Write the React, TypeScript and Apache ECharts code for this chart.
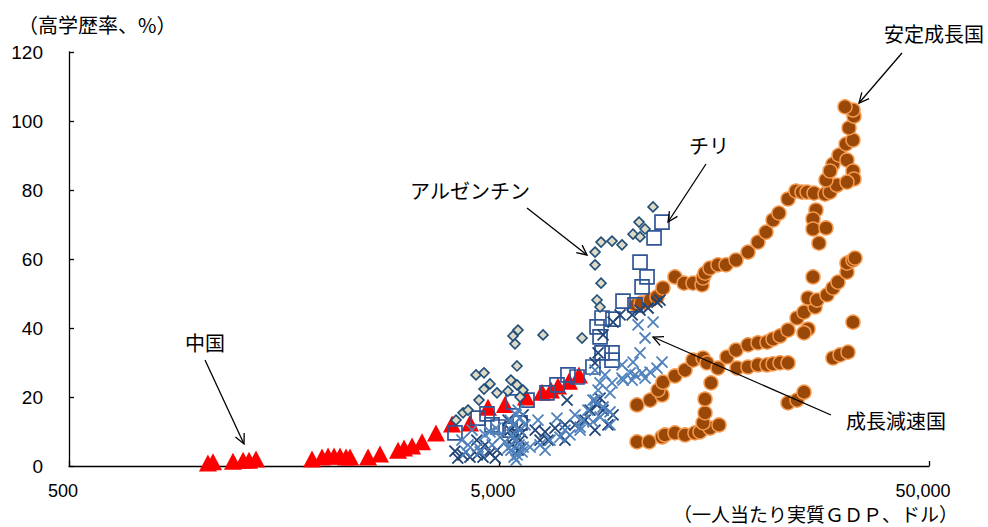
import { useEffect, useRef } from "react";
import * as echarts from "echarts";

// ---------- data: [real GDP per capita (USD), tertiary education rate (%)] ----------
const GDP_BASE = 500;
const xTickValues = [500, 5000, 50000];
const yTicks = [0, 20, 40, 60, 80, 100, 120];

const china: [number, number][] = [
  [1052, 0.9], [1081, 1.2], [1203, 1.4], [1270, 1.7], [1311, 1.7], [1361, 2.0],
  [1837, 2.0], [1938, 2.6], [2002, 2.9], [2067, 2.9], [2134, 2.9], [2204, 2.6],
  [2252, 2.6], [2480, 2.6], [2644, 3.5], [2912, 4.6], [3007, 5.2], [3139, 5.8],
  [3311, 7.0], [3568, 9.6], [3888, 12.2], [4281, 12.5], [4714, 17.0], [5162, 17.8],
  [5778, 20.0], [6295, 21.4], [6604, 22.0], [6858, 23.2], [7273, 24.6], [7673, 26.4],
];

const argentina: [number, number][] = [
  [3972, 13.3], [4124, 15.4], [4236, 16.2], [4492, 19.1], [4614, 22.3], [4765, 23.8],
  [4946, 21.2], [4421, 26.4], [4614, 27.0], [5245, 21.7], [5329, 24.9], [5506, 23.5],
  [5684, 22.0], [5597, 20.0], [5506, 29.0], [5447, 35.4], [5388, 37.7], [5535, 39.4],
  [6330, 38.0], [7800, 37.1], [8452, 48.1], [8589, 46.1], [8635, 53.0], [8363, 58.3],
  [8363, 62.0], [8635, 64.9], [9158, 65.2], [9661, 64.1], [10247, 67.2], [10640, 66.4],
  [10583, 70.7], [10930, 68.7], [11406, 75.1],
];

const chile: [number, number][] = [
  [3950, 9.6], [4470, 13.9], [4689, 15.1], [4816, 11.9], [4974, 11.3], [5305, 10.4],
  [5388, 18.6], [5597, 12.5], [5809, 19.1], [6464, 21.2], [6822, 23.5], [7234, 26.4],
  [7593, 25.8], [8269, 28.7], [8589, 37.4], [8681, 32.8], [9158, 32.8], [9158, 30.7],
  [8452, 40.3], [8681, 42.9], [9205, 42.6], [9714, 47.8], [10358, 46.7], [10640, 59.1],
  [11046, 54.8], [10756, 51.9], [11469, 66.1], [11968, 70.7],
];

const slowingDark: [number, number][] = [
  [3950, 4.3], [4120, 3.2], [4280, 2.6], [4450, 3.2], [4590, 2.6], [4765, 3.8],
  [4950, 4.6], [4640, 6.1], [4440, 7.5], [4010, 2.3], [4900, 2.3],
  [5305, 10.4], [5450, 9.9], [5540, 11.0], [5660, 9.6], [5390, 8.1], [5600, 7.5],
  [5250, 13.3], [5690, 14.8], [5360, 6.1], [5540, 4.6],
  [6070, 10.4], [6400, 9.9], [6750, 11.0], [7120, 11.9], [7510, 11.9], [7120, 7.5],
  [6500, 7.5], [7930, 13.3], [7200, 19.1], [6230, 7.5],
  [8450, 17.7], [8730, 16.2], [8590, 19.7], [8960, 11.9], [9210, 14.8], [8140, 16.2],
  [8360, 10.4],
  [9560, 43.8], [10200, 43.8], [10640, 45.2], [11110, 45.8], [11650, 47.5], [11840, 48.1],
  [9210, 41.7], [8500, 32.8], [8360, 29.9], [8730, 38.0],
];

const slowingLight: [number, number][] = [
  [4100, 7.5], [4235, 6.1], [4470, 5.5], [4640, 9.0], [4765, 9.9], [4920, 11.0],
  [4330, 10.4], [5160, 7.0], [5030, 8.4], [4190, 4.1], [4520, 4.1], [4820, 6.1],
  [5305, 13.3], [5390, 11.9], [5480, 14.8], [5540, 16.2], [5600, 10.4], [5360, 9.0],
  [5450, 7.5], [5570, 6.1], [5330, 4.6], [5510, 3.2], [5660, 4.1], [5420, 2.6],
  [5250, 5.2], [5600, 13.9], [5750, 11.9], [5690, 5.5], [5480, 1.7],
  [6230, 6.1], [6570, 7.5], [6930, 8.4], [7310, 9.0], [7720, 10.4], [6160, 13.3],
  [6820, 13.9], [7510, 14.8], [8050, 16.2], [6400, 4.6], [5905, 5.5],
  [8360, 19.1], [8500, 22.0], [8270, 19.1], [8730, 17.1], [8590, 14.2], [8270, 12.8],
  [7840, 13.3], [7720, 11.3], [7120, 10.4], [9060, 11.9], [9060, 15.7], [8590, 24.1],
  [9060, 21.2], [9160, 24.1], [9660, 25.5], [10200, 24.9], [8820, 26.4], [8360, 27.8],
  [9660, 29.3], [10250, 30.1], [10640, 32.8], [10930, 37.1], [10530, 40.9], [11410, 41.7],
  [10090, 27.0], [10760, 27.0], [11230, 27.2], [11650, 28.4], [11970, 30.1], [10930, 25.5],
  [10360, 26.4], [9720, 24.9],
];

const stable: [number, number][] = [
  // upper chain
  [10410, 46.7], [10700, 47.2], [11230, 48.1], [11650, 49.0], [12030, 51.6], [12830, 54.8],
  [13470, 53.0], [14130, 53.0], [14830, 52.5], [14910, 54.5], [15070, 55.9], [15475, 57.4],
  [16150, 58.3], [16860, 58.3], [17790, 59.7], [18970, 62.0], [20010, 64.9], [20890, 67.8],
  [21690, 71.3], [22390, 73.3], [23500, 77.4], [24530, 79.7], [25330, 79.4], [26020, 79.4],
  [27010, 79.1], [28650, 78.8], [29430, 79.4], [30550, 81.4], [28800, 82.9], [29900, 87.5],
  [30880, 90.1], [32230, 88.7], [32060, 93.3], [33280, 94.5], [32580, 98.0], [33460, 101.4],
  [33280, 103.2], [31890, 104.1], [29430, 85.5], [33280, 85.5], [33460, 83.2], [32230, 82.3],
  [27300, 74.2], [26870, 71.6], [26870, 68.7], [28800, 69.0], [27740, 64.6],
  // middle chain
  [10470, 17.7], [11230, 19.1], [11970, 20.6], [11720, 22.0], [12030, 24.3], [12830, 26.1],
  [13540, 27.8], [14130, 30.7], [14910, 31.3], [15230, 29.9], [16950, 31.6], [17790, 33.6],
  [18970, 35.1], [20010, 35.7], [21000, 35.9], [21690, 36.8], [22515, 37.7], [23500, 39.4],
  [24660, 42.9], [25600, 44.6], [27160, 46.1], [26160, 48.7], [27450, 48.1], [28960, 49.6],
  [29900, 51.6], [30710, 53.3], [32230, 56.2], [32230, 58.8], [33280, 59.7], [33640, 60.3],
  [26160, 39.7], [25600, 38.6], [26870, 54.8],
  // flat row
  [16150, 28.4], [17890, 28.4], [18970, 28.7], [20010, 29.3], [21000, 29.3], [21690, 29.6],
  [22515, 29.9], [23500, 29.9],
  // lower chain
  [10470, 7.0], [11170, 7.0], [11970, 8.4], [12160, 9.0], [12830, 9.6], [13540, 9.0],
  [14280, 9.6], [14670, 9.9], [15475, 11.0], [16240, 11.9], [14910, 12.5], [15070, 15.4],
  [15070, 19.4], [15560, 24.1],
  // others
  [23500, 18.3], [24660, 19.1], [25600, 21.4], [33280, 41.7], [29900, 31.3], [31046, 32.2],
  [32400, 33.0],
];

// ---------- annotation layout (pixel positions of labels / arrows) ----------
const annotations = [
  { text: "中国", tx: 205, ty: 342, from: [205, 360], to: [244, 444] },
  { text: "アルゼンチン", tx: 470, ty: 190, from: [527, 208], to: [587, 255] },
  { text: "チリ", tx: 709, ty: 145, from: [706, 164], to: [668, 222] },
  { text: "安定成長国", tx: 934, ty: 33, from: [902, 53], to: [859, 103] },
  { text: "成長減速国", tx: 896, ty: 420, from: [831, 415], to: [653, 337] },
];

const CJK = '"Noto Sans CJK JP", "Noto Sans", sans-serif';
const NUM = '"Liberation Sans", Arial, sans-serif';

const toX = (g: number) => Math.log10(g / GDP_BASE);
const conv = (pts: [number, number][]) => pts.map(([g, r]) => [toX(g), r]);

function arrow(x1: number, y1: number, x2: number, y2: number) {
  const a = Math.atan2(y2 - y1, x2 - x1);
  const L = 11;
  const th = 0.45;
  const p1 = [x2 - L * Math.cos(a - th), y2 - L * Math.sin(a - th)];
  const p2 = [x2 - L * Math.cos(a + th), y2 - L * Math.sin(a + th)];
  return [
    { type: "line", z: 100, shape: { x1, y1, x2, y2 }, style: { stroke: "#000", lineWidth: 1.3 } },
    {
      type: "polyline",
      z: 100,
      shape: { points: [p1, [x2, y2], p2] },
      style: { stroke: "#000", lineWidth: 1.3, fill: null },
    },
  ];
}

const X_PATH = "path://M0,0L10,10M10,0L0,10";

export default function App() {
  const ref = useRef<HTMLDivElement>(null);

  useEffect(() => {
    document.body.style.margin = "0";
    if (!ref.current) return;
    const chart = echarts.init(ref.current, undefined, { renderer: "svg" });

    const graphics: any[] = [];
    annotations.forEach((an) => {
      graphics.push({
        type: "text",
        z: 100,
        x: an.tx,
        y: an.ty,
        style: {
          text: an.text,
          font: `20px ${CJK}`,
          fill: "#000",
          align: "center",
          verticalAlign: "middle",
        },
      });
      graphics.push(...arrow(an.from[0], an.from[1], an.to[0], an.to[1]));
    });
    graphics.push({
      type: "text",
      z: 100,
      x: 18,
      y: 24,
      style: { text: "（高学歴率、%）", font: `20px ${CJK}`, fill: "#000", align: "left", verticalAlign: "middle" },
    });
    graphics.push({
      type: "text",
      z: 100,
      x: 958,
      y: 513,
      style: {
        text: "（一人当たり実質ＧＤＰ、ドル）",
        font: `19px ${CJK}`,
        fill: "#000",
        align: "right",
        verticalAlign: "middle",
      },
    });

    const axisLine = { show: true, lineStyle: { color: "#000", width: 1.3 } };
    const axisTick = { show: true, inside: true, length: 5, lineStyle: { color: "#000", width: 1.3 } };

    chart.setOption({
      animation: false,
      backgroundColor: "#fff",
      grid: { left: 69, right: 59, top: 52, bottom: 61, containLabel: false },
      xAxis: {
        type: "value",
        min: toX(xTickValues[0]),
        max: toX(xTickValues[xTickValues.length - 1]),
        interval: 1,
        axisLine,
        axisTick,
        splitLine: { show: false },
        axisLabel: {
          color: "#000",
          fontSize: 18,
          fontFamily: NUM,
          margin: 16,
          padding: [0, 12, 0, 0],
          formatter: (v: number) => Math.round(GDP_BASE * Math.pow(10, v)).toLocaleString("en-US"),
        },
      },
      yAxis: {
        type: "value",
        min: yTicks[0],
        max: yTicks[yTicks.length - 1],
        interval: yTicks[1] - yTicks[0],
        axisLine,
        axisTick,
        splitLine: { show: false },
        axisLabel: { color: "#000", fontSize: 19, fontFamily: NUM, margin: 26 },
      },
      series: [
        {
          name: "中国",
          type: "scatter",
          clip: false,
          symbol: "triangle",
          symbolSize: [18, 17],
          itemStyle: { color: "#FF0000", opacity: 1 },
          data: conv(china),
        },
        {
          name: "安定成長国",
          type: "scatter",
          clip: false,
          symbol: "circle",
          symbolSize: 14,
          itemStyle: { color: "#9A4807", borderColor: "#F79A4E", borderWidth: 1.5, opacity: 1 },
          data: conv(stable),
        },
        {
          name: "チリ",
          type: "scatter",
          clip: false,
          symbol: "rect",
          symbolSize: 14,
          itemStyle: { color: "rgba(0,0,0,0)", borderColor: "#2F5597", borderWidth: 1.7, opacity: 1 },
          data: conv(chile),
        },
        {
          name: "アルゼンチン",
          type: "scatter",
          clip: false,
          symbol: "diamond",
          symbolSize: 10,
          itemStyle: { color: "#DDD9C4", borderColor: "#1F4E79", borderWidth: 1.6, opacity: 1 },
          data: conv(argentina),
        },
        {
          name: "成長減速国A",
          type: "scatter",
          clip: false,
          symbol: X_PATH,
          symbolSize: 11,
          itemStyle: { color: "rgba(0,0,0,0)", borderColor: "#1F4478", borderWidth: 1.8, opacity: 1 },
          data: conv(slowingDark),
        },
        {
          name: "成長減速国B",
          type: "scatter",
          clip: false,
          symbol: X_PATH,
          symbolSize: 11,
          itemStyle: { color: "rgba(0,0,0,0)", borderColor: "#4F81BD", borderWidth: 1.8, opacity: 1 },
          data: conv(slowingLight),
        },
      ],
      graphic: graphics,
    });

    return () => chart.dispose();
  }, []);

  return <div ref={ref} style={{ width: 988, height: 527 }} />;
}
